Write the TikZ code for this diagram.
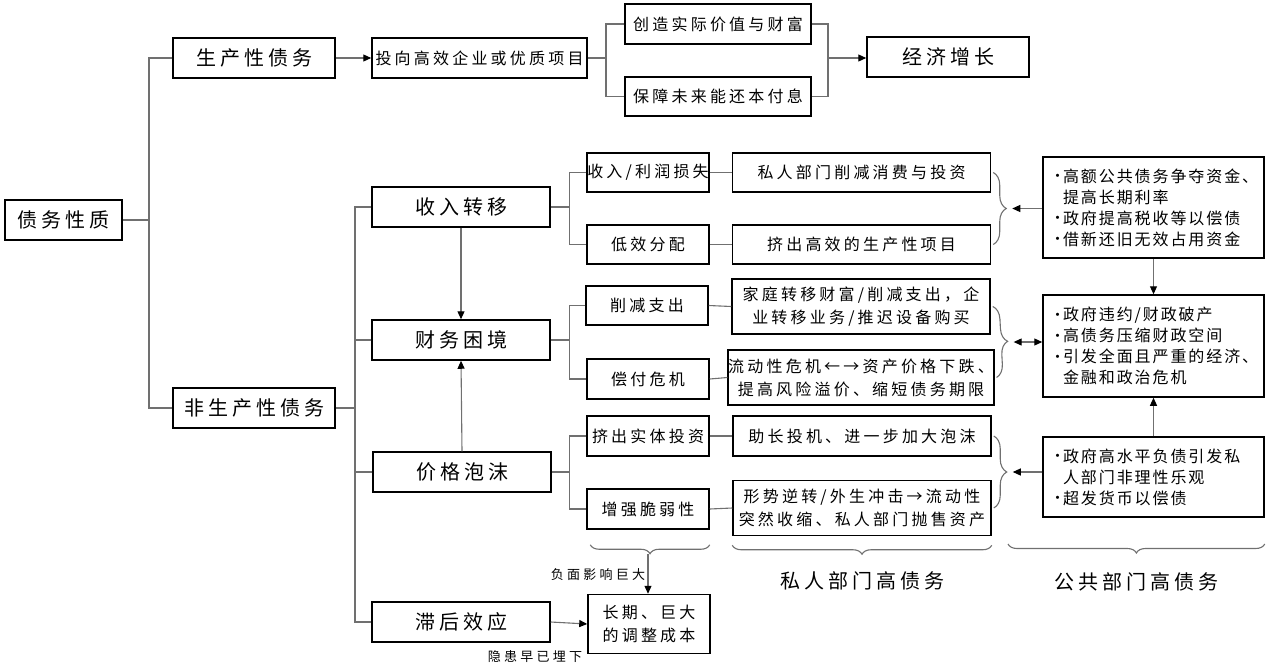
\documentclass[tikz,border=0pt]{standalone}
\usepackage{fontspec}
\setmainfont{Noto Sans CJK SC}
\usetikzlibrary{arrows.meta,decorations.pathreplacing,calc}
\definecolor{cg}{HTML}{707070}
\newcommand{\myb}{\makebox[13pt][l]{\fontsize{15}{15}\selectfont\raisebox{0.5pt}{•}}}
\newcommand{\myc}{\hspace*{13pt}}
\begin{document}
\begin{tikzpicture}[x=1pt,y=-1pt,
  box/.style={draw=black,line width=1.5pt,inner sep=0pt,align=center,fill=white},
  big/.style={font={\fontsize{20}{24}\selectfont\addfontfeature{LetterSpace=20}}},
  med/.style={font={\fontsize{16}{23}\selectfont\addfontfeature{LetterSpace=20}}},
  bul/.style={font={\fontsize{16}{21}\selectfont\addfontfeature{LetterSpace=12}},align=left,inner xsep=7pt,inner ysep=0pt,text width=207pt},
  lab/.style={font={\fontsize{13}{16}\selectfont\addfontfeature{LetterSpace=25}}},
  con/.style={draw=cg,line width=1.1pt},
  arr/.style={con,-{Triangle[length=8pt,width=7pt,color=black]}},
  darr/.style={con,{Triangle[length=8pt,width=7pt,color=black]}-{Triangle[length=8pt,width=7pt,color=black]}},
  brc/.style={con,decorate}
]
\useasboundingbox (0,0) rectangle (1280,667);

% nodes
\node[box,big,minimum width=117pt,minimum height=40pt] (root) at (63.5,220) {债务性质};
\node[box,big,minimum width=162pt,minimum height=40pt] (sc) at (254,58) {生产性债务};
\node[box,med,minimum width=215pt,minimum height=40pt] (inv) at (479.5,58) {投向高效企业或优质项目};
\node[box,med,minimum width=186pt,minimum height=40pt] (c1) at (718,24) {创造实际价值与财富};
\node[box,med,minimum width=186pt,minimum height=39pt] (c2) at (718,96.5) {保障未来能还本付息};
\node[box,big,minimum width=162pt,minimum height=40pt] (eg) at (948,57) {经济增长};

\node[box,big,minimum width=162pt,minimum height=40pt] (nsc) at (254,408) {非生产性债务};
\node[box,big,minimum width=178pt,minimum height=40pt] (a1) at (461,207) {收入转移};
\node[box,big,minimum width=178pt,minimum height=40pt] (a2) at (461,340) {财务困境};
\node[box,big,minimum width=178pt,minimum height=40pt] (a3) at (462,472) {价格泡沫};
\node[box,big,minimum width=178pt,minimum height=40pt] (a4) at (461,622) {滞后效应};

\node[box,med,minimum width=122pt,minimum height=39pt] (b1) at (648,172.5) {收入/利润损失};
\node[box,med,minimum width=122pt,minimum height=39pt] (b2) at (648,244.5) {低效分配};
\node[box,med,minimum width=122pt,minimum height=39pt] (b3) at (647,305.5) {削减支出};
\node[box,med,minimum width=122pt,minimum height=40pt] (b4) at (648,379) {偿付危机};
\node[box,med,minimum width=122pt,minimum height=40pt] (b5) at (648,436) {挤出实体投资};
\node[box,med,minimum width=122pt,minimum height=40pt] (b6) at (648,509) {增强脆弱性};

\node[box,med,minimum width=258pt,minimum height=39pt] (p1) at (861.5,172.5) {私人部门削减消费与投资};
\node[box,med,minimum width=258pt,minimum height=39pt] (p2) at (861.5,244.5) {挤出高效的生产性项目};
\node[box,med,minimum width=258pt,minimum height=55pt] (p3) at (861,306.5) {家庭转移财富/削减支出，企\\业转移业务/推迟设备购买};
\node[box,med,minimum width=258pt,minimum height=55pt] (p4) at (861,377.5) {流动性危机←→资产价格下跌、\\提高风险溢价、缩短债务期限};
\node[box,med,minimum width=258pt,minimum height=40pt] (p5) at (862,436) {助长投机、进一步加大泡沫};
\node[box,med,minimum width=258pt,minimum height=55pt] (p6) at (862,508) {形势逆转/外生冲击→流动性\\突然收缩、私人部门抛售资产};

\node[box,bul,minimum height=101pt] (pb1) at (1153.5,207.5) {\myb 高额公共债务争夺资金、\\\myc 提高长期利率\\\myb 政府提高税收等以偿债\\\myb 借新还旧无效占用资金};
\node[box,bul,minimum height=102pt] (pb2) at (1153.5,346) {\myb 政府违约/财政破产\\\myb 高债务压缩财政空间\\\myb 引发全面且严重的经济、\\\myc 金融和政治危机};
\node[box,bul,minimum height=80pt] (pb3) at (1153.5,477) {\myb 政府高水平负债引发私\\\myc 人部门非理性乐观\\\myb 超发货币以偿债};

\node[box,med,minimum width=122pt,minimum height=59pt] (cost) at (649,624) {长期、巨大\\的调整成本};

\node[lab] (l1) at (598,575) {负面影响巨大};
\node[lab] (l2) at (535,657) {隐患早已埋下};
\node[big] (l3) at (862,581) {私人部门高债务};
\node[big] (l4) at (1136,582) {公共部门高债务};

% top tree
\coordinate (t1) at (149,220);
\draw[con] (root.east) -- (t1);
\draw[con] (sc.west) -| (t1) |- (nsc.west);
\draw[arr] (sc.east) -- (inv.west);
\coordinate (t2) at (606,58);
\draw[con] (inv.east) -- (t2);
\draw[con] (c1.west) -| (t2) |- (c2.west);
\coordinate (t3) at (828,58);
\draw[con] (c1.east) -| (t3) |- (c2.east);
\draw[arr] (t3) -- (t3 -| eg.west);

% non-productive tree
\coordinate (t4) at (355,408);
\draw[con] (nsc.east) -- (t4);
\draw[con] (a1.west) -| (t4) |- (a4.west);
\draw[con] (a2.west) -- (a2.west -| t4);
\draw[con] (a3.west) -- (a3.west -| t4);

\coordinate (u1) at ([xshift=19pt]a1.east);
\draw[con] (a1.east) -- (u1);
\draw[con] (b1.west) -| (u1) |- (b2.west);
\coordinate (u2) at ([xshift=19pt]a2.east);
\draw[con] (a2.east) -- (u2);
\draw[con] (b3.west) -| (u2) |- (b4.west);
\coordinate (u3) at ([xshift=18pt]a3.east);
\draw[con] (a3.east) -- (u3);
\draw[con] (b5.west) -| (u3) |- (b6.west);

\draw[con] (b1.east) -- (p1.west);
\draw[con] (b2.east) -- (p2.west);
\draw[con] (b3.east) -- (p3.west);
\draw[con] (b4.east) -- (p4.west);
\draw[con] (b5.east) -- (p5.west);
\draw[con] (b6.east) -- (p6.west);

\draw[arr] (a1.south) -- (a2.north);
\draw[arr] (a3.north) -- (a2.south);
\draw[arr] (a4.east) -- (cost.west);

% right braces
\draw[brc,decoration={brace,amplitude=13pt}] ([xshift=2pt]p1.east) -- ([xshift=2pt]p2.east);
\coordinate (r1) at ($([xshift=21pt]p1.east)!0.5!([xshift=21pt]p2.east)$);
\draw[arr] (pb1.west |- r1) -- (r1);
\draw[brc,decoration={brace,amplitude=13pt}] ([xshift=2pt]p3.east) -- ([xshift=2pt]p4.east);
\coordinate (r2) at ($([xshift=21pt]p3.east)!0.5!([xshift=21pt]p4.east)$);
\draw[darr] (pb2.west |- r2) -- (r2);
\draw[brc,decoration={brace,amplitude=13pt}] ([xshift=2pt]p5.east) -- ([xshift=2pt]p6.east);
\coordinate (r3) at ($([xshift=21pt]p5.east)!0.5!([xshift=21pt]p6.east)$);
\draw[arr] (pb3.west |- r3) -- (r3);

\draw[arr] (pb1.south) -- (pb2.north);
\draw[arr] (pb3.north) -- (pb2.south);

% bottom braces
\draw[brc,decoration={brace,mirror,amplitude=9pt}] ([yshift=-15pt,xshift=4pt]b6.south west) -- ([yshift=-15pt]b6.south east);
\coordinate (bt1) at ([yshift=-24pt]b6.south);
\draw[arr] (bt1) -- (bt1 |- cost.north);
\draw[brc,decoration={brace,mirror,amplitude=9pt}] ([yshift=-9pt]p6.south west) -- ([yshift=-9pt]p6.south east);
\coordinate (pbL) at (1008,544);
\draw[brc,decoration={brace,mirror,amplitude=9pt}] (pbL) -- (pbL -| pb3.east);
\end{tikzpicture}
\end{document}
